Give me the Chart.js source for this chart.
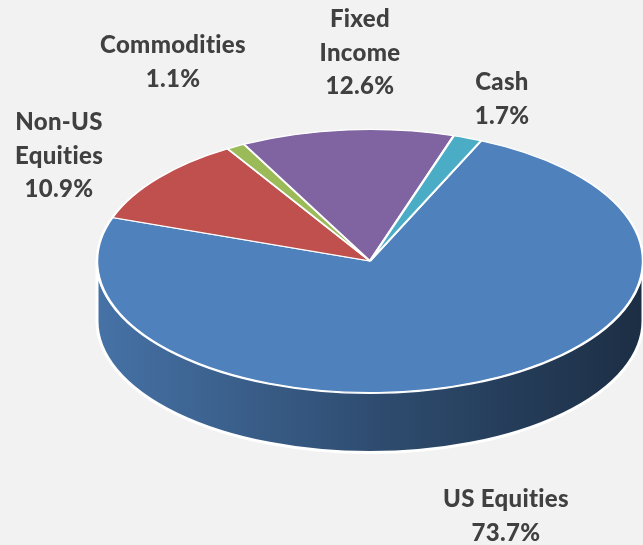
<!DOCTYPE html>
<html>
<head>
<meta charset="utf-8">
<script src="https://cdn.jsdelivr.net/npm/chart.js@4.4.1/dist/chart.umd.min.js"></script>
<style>
  html, body { margin: 0; padding: 0; background: #f2f2f2; }
  canvas { display: block; }
</style>
</head>
<body>
<canvas id="allocationChart" width="643" height="545"></canvas>
<script>
const categories = ['US Equities', 'Non-US Equities', 'Commodities', 'Fixed Income', 'Cash'];
const allocation = [73.7, 10.9, 1.1, 12.6, 1.7];
const labelLines = [['US Equities'], ['Non-US', 'Equities'], ['Commodities'], ['Fixed', 'Income'], ['Cash']];
const sliceColors = ['#4f81bd', '#c0504d', '#9bbb59', '#8064a2', '#4bacc6'];

// where each label block is centred (x) and its first baseline (y)
const labelPos = [[506, 507], [59, 130], [173, 53], [360, 27], [502, 90]];

const TILT = 0.482;   // vertical squash of the pie top
const DEPTH = 60;     // thickness of the side wall in px

function shade(hex, f) {
  const n = parseInt(hex.slice(1), 16);
  const r = Math.round(((n >> 16) & 255) * f);
  const g = Math.round(((n >> 8) & 255) * f);
  const b = Math.round((n & 255) * f);
  return `rgb(${r},${g},${b})`;
}

// squash the pie into an ellipse and give it a side wall
const tiltPlugin = {
  id: 'tilt',
  beforeDatasetsDraw(chart) {
    const ctx = chart.ctx;
    const arcs = chart.getDatasetMeta(0).data;
    if (!arcs.length) return;
    const { x, y, outerRadius: r } = arcs[0];
    ctx.save();
    arcs.forEach((arc, i) => {
      for (let turn = -1; turn <= 1; turn++) {
        const a1 = Math.max(arc.startAngle, turn * 2 * Math.PI);
        const a2 = Math.min(arc.endAngle, turn * 2 * Math.PI + Math.PI);
        if (a2 <= a1) continue;
        ctx.save();
        ctx.translate(x, y);
        ctx.scale(1, TILT);
        ctx.beginPath();
        ctx.arc(0, 0, r, a1, a2);
        ctx.arc(0, DEPTH / TILT, r, a2, a1, true);
        ctx.closePath();
        ctx.restore();
        const col = sliceColors[i];
        const grad = ctx.createLinearGradient(x - r, 0, x + r, 0);
        grad.addColorStop(0, shade(col, 0.88));
        grad.addColorStop(0.5, shade(col, 0.6));
        grad.addColorStop(1, shade(col, 0.36));
        ctx.fillStyle = grad;
        ctx.fill();
        ctx.strokeStyle = '#ffffff';
        ctx.lineWidth = 3;
        ctx.stroke();
      }
    });
    ctx.translate(x, y);
    ctx.scale(1, TILT);
    ctx.translate(-x, -y);
  },
  afterDatasetsDraw(chart) {
    chart.ctx.restore();
  }
};

const labelPlugin = {
  id: 'sliceLabels',
  afterDraw(chart) {
    const ctx = chart.ctx;
    ctx.save();
    ctx.font = '900 24px Lato';
    ctx.letterSpacing = '0.3px';
    ctx.fillStyle = '#404040';
    ctx.textAlign = 'center';
    ctx.textBaseline = 'alphabetic';
    labelLines.forEach((lines, i) => {
      const [lx, ly] = labelPos[i];
      const all = lines.concat(allocation[i].toFixed(1) + '%');
      all.forEach((t, j) => ctx.fillText(t, lx, ly + j * 33.5));
    });
    ctx.restore();
  }
};

const ctx = document.getElementById('allocationChart').getContext('2d');
new Chart(ctx, {
  type: 'pie',
  data: {
    labels: categories,
    datasets: [{
      data: allocation,
      backgroundColor: sliceColors,
      borderColor: '#ffffff',
      borderWidth: 2.5,
      clip: false
    }]
  },
  options: {
    responsive: false,
    animation: false,
    events: [],
    rotation: 24,
    radius: 273,
    layout: { padding: { left: 97, right: 0, top: 0, bottom: 23 } },
    plugins: {
      legend: { display: false },
      tooltip: { enabled: false }
    }
  },
  plugins: [tiltPlugin, labelPlugin]
});
</script>
</body>
</html>
